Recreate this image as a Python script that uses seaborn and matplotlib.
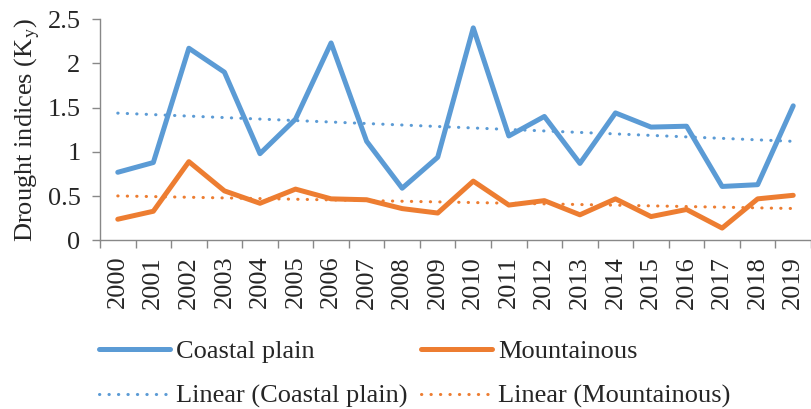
import seaborn as sns
import matplotlib.pyplot as plt
import numpy as np
import pandas as pd

years = [str(y) for y in range(2000, 2020)]
coastal = [0.77, 0.88, 2.17, 1.90, 0.98, 1.37, 2.23, 1.12, 0.59, 0.94,
           2.40, 1.18, 1.40, 0.87, 1.44, 1.28, 1.29, 0.61, 0.63, 1.52]
mountain = [0.24, 0.33, 0.89, 0.56, 0.42, 0.58, 0.47, 0.46, 0.36, 0.31,
            0.67, 0.40, 0.45, 0.29, 0.47, 0.27, 0.35, 0.14, 0.47, 0.51]

blue = '#5B9BD5'
orange = '#ED7D31'
fs = 19

sns.set_style('white')
plt.rcParams['font.family'] = ['Liberation Serif', 'DejaVu Serif']
plt.rcParams['mathtext.fontset'] = 'stix'

df = pd.DataFrame({'idx': np.arange(len(years)), 'Coastal plain': coastal,
                   'Mountainous': mountain})

fig = plt.figure(figsize=(8.11, 4.09), dpi=100)
ax = fig.add_axes([0.1233, 0.412, 0.8767, 0.5415])

sns.lineplot(data=df, x='idx', y='Coastal plain', color=blue, lw=3.6, ax=ax,
             label='Coastal plain')
sns.lineplot(data=df, x='idx', y='Mountainous', color=orange, lw=3.6, ax=ax,
             label='Mountainous')

# linear trend lines
x = df['idx'].values
for col, c in [('Coastal plain', blue), ('Mountainous', orange)]:
    k, b = np.polyfit(x, df[col].values, 1)
    ax.plot(x, k * x + b, color=c, lw=2.2, linestyle=(0, (0.1, 3.0)),
            dash_capstyle='round', label=f'Linear ({col})')

ax.set_xlim(-0.5, 19.3)
ax.set_ylim(0, 2.5)
ax.set_yticks([0, 0.5, 1, 1.5, 2, 2.5])
ax.set_yticklabels(['0', '0.5', '1', '1.5', '2', '2.5'], fontsize=fs)
ax.set_xticks(x)
ax.set_xticklabels(years, rotation=90, fontsize=fs)
ax.set_xticks(np.arange(-0.5, 19.6, 1), minor=True)
ax.tick_params(axis='x', which='major', length=0, pad=11)
ax.tick_params(axis='x', which='minor', length=6, width=1, color='#888888',
               direction='out', bottom=True)
ax.tick_params(axis='y', length=6, width=1, color='#888888', left=True, pad=8)
ax.set_xlabel('')
ax.set_ylabel('Drought indices (K$_{\\mathrm{y}}$)', fontsize=fs, labelpad=4)

for s in ['top', 'right']:
    ax.spines[s].set_visible(False)
for s in ['left', 'bottom']:
    ax.spines[s].set_color('#888888')
    ax.spines[s].set_linewidth(1)

h, l = ax.get_legend_handles_labels()
ax.get_legend().remove()
order = [0, 2, 1, 3]
fig.legend([h[i] for i in order], [l[i] for i in order], ncol=2,
           loc='upper left', bbox_to_anchor=(99 / 811, 1 - 340 / 409),
           frameon=False, fontsize=fs, handlelength=2.7, handletextpad=0.23,
           columnspacing=0.5, labelspacing=0.8, borderpad=0,
           borderaxespad=0)

plt.savefig('out.png', dpi=100)
